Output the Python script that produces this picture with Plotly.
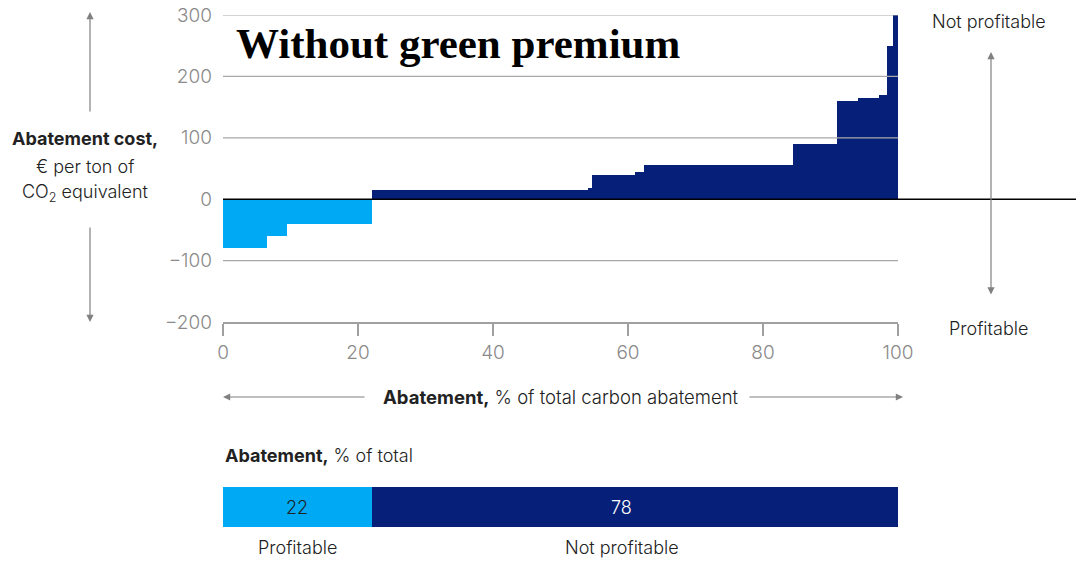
import plotly.graph_objects as go
import numpy as np

# ---- data ----
seg_widths = [6.5, 3.0, 12.5, 32.0, 0.6, 6.5, 1.2, 22.2, 6.4, 3.2, 3.1, 1.2, 0.8, 0.8]
seg_costs = [-80, -60, -40, 15, 18, 39, 44, 55, 90, 160, 165, 170, 250, 300]
y_ticks = [-200, -100, 0, 100, 200, 300]
x_ticks = [0, 20, 40, 60, 80, 100]
share_labels = ["Profitable", "Not profitable"]
share_values = [22, 78]

LIGHT = "#00A9F4"
NAVY = "#061F79"
GRAY = "#8a8a8a"
TXT = "#222222"
SANS = "Inter, Roboto, Arial, sans-serif"
SERIF = "Liberation Serif, Times New Roman, serif"

W, H = 1076, 562
L, R = 223, 898


def px(x):
    return (x - L) / (R - L)


def py(y):
    return 1 - y / H


widths = np.array(seg_widths)
starts = np.concatenate([[0], np.cumsum(widths)[:-1]])
mids = starts + widths / 2
colors = [LIGHT if c < 0 else NAVY for c in seg_costs]

fig = go.Figure()
fig.add_trace(go.Bar(
    x=mids, y=seg_costs, width=widths, marker=dict(color=colors, line=dict(width=0)),
    xaxis="x", yaxis="y", hoverinfo="skip", showlegend=False,
))

annotations = []

# bottom stacked share bar
cum = np.concatenate([[0], np.cumsum(share_values)[:-1]])
label_shift = [0, -13]
for i, (lab, v) in enumerate(zip(share_labels, share_values)):
    fig.add_trace(go.Bar(
        x=[v], y=[0], base=[cum[i]], orientation="h", width=1,
        marker=dict(color=LIGHT if i == 0 else NAVY, line=dict(width=0)),
        xaxis="x2", yaxis="y2", hoverinfo="skip", showlegend=False,
    ))
    annotations.append(dict(x=cum[i] + v / 2, y=0, xref="x2", yref="y2", text=str(v),
                            showarrow=False, xshift=label_shift[i], yanchor="middle",
                            font=dict(family=SANS, size=18, weight=300,
                                      color=TXT if i == 0 else "white")))
    annotations.append(dict(x=cum[i] + v / 2, y=py(547), xref="x2", yref="paper",
                            text=lab, showarrow=False, xshift=label_shift[i], yanchor="middle",
                            font=dict(family=SANS, size=18, color=TXT, weight=300)))

shapes = []
# gridlines drawn above bars
for t in y_ticks:
    if t in (0, -200):
        continue
    shapes.append(dict(type="line", xref="paper", yref="y", x0=0, x1=1, y0=t, y1=t,
                       line=dict(color="#a8a8a8", width=1.2), layer="above"))
# zero line extended to the right edge
shapes.append(dict(type="line", xref="paper", yref="y", x0=0, x1=px(W), y0=0, y1=0,
                   line=dict(color="black", width=1.5), layer="above"))


def arrow(x_tip, y_tip, x_tail, y_tail, both=False):
    annotations.append(dict(
        x=px(x_tip), y=py(y_tip), xref="paper", yref="paper",
        ax=x_tail - x_tip, ay=y_tail - y_tip,
        text="", showarrow=True, arrowhead=2, startarrowhead=2,
        arrowside="end+start" if both else "end",
        arrowsize=1.2, arrowwidth=1.2, arrowcolor="#808080",
    ))


arrow(90, 12, 90, 113)
arrow(90, 322, 90, 226)
arrow(991, 52, 991, 296, both=True)
arrow(223, 397, 366, 397)
arrow(903, 397, 748, 397)


def text(x, y, s, size=18, color=TXT, xanchor="center", family=SANS, weight=300):
    annotations.append(dict(x=px(x), y=py(y), xref="paper", yref="paper", text=s,
                            showarrow=False, xanchor=xanchor, yanchor="middle",
                            font=dict(family=family, size=size, color=color, weight=weight)))


text(85, 138, "<b>Abatement cost,</b>")
text(85, 166, "€ per ton of")
text(85, 193, "CO<sub>2</sub> equivalent")
text(989, 21, "Not profitable")
text(989, 329, "Profitable")
text(561, 397, "<b>Abatement,</b> % of total carbon abatement", size=18.5)
text(223, 455, "<b>Abatement,</b> % of total", xanchor="left")
text(234, 44, "<b>Without green premium</b>", size=43, color="black", xanchor="left",
     family=SERIF, weight=None)

fig.update_layout(
    width=W, height=H, margin=dict(l=L, r=W - R, t=0, b=0),
    paper_bgcolor="white", plot_bgcolor="white", bargap=0, barmode="overlay",
    font=dict(family=SANS, size=18, color=GRAY),
    xaxis=dict(domain=[0, 1], range=[0, 100], tickvals=x_ticks, showgrid=False, zeroline=False,
               showline=True, linecolor="#a0a0a0", linewidth=1.5, ticks="outside", ticklen=12,
               tickcolor="#a0a0a0", tickwidth=1.5, automargin=False,
               tickfont=dict(family=SANS, size=19, color=GRAY, weight=300),
               anchor="y", fixedrange=True),
    yaxis=dict(domain=[py(322), py(15)], range=[-200, 300], tickvals=y_ticks, showgrid=False,
               zeroline=False, showline=False, ticks="", ticklabelstandoff=10, automargin=False,
               tickfont=dict(family=SANS, size=19, color=GRAY, weight=300), anchor="x",
               fixedrange=True),
    xaxis2=dict(domain=[0, 1], range=[0, 100], visible=False, anchor="y2", automargin=False),
    yaxis2=dict(domain=[py(527), py(487)], range=[-0.5, 0.5], visible=False, anchor="x2",
                automargin=False),
    shapes=shapes, annotations=annotations,
)

fig.write_html("out.html")
